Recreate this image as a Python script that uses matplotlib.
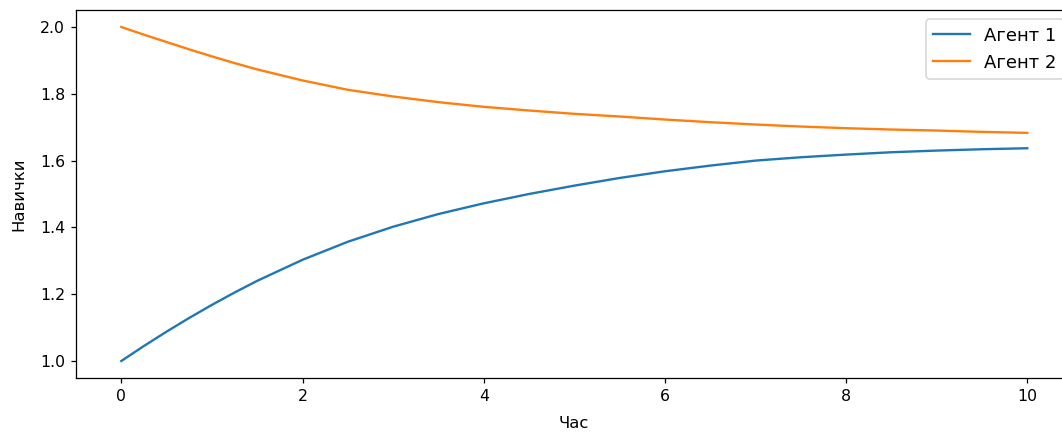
import matplotlib
matplotlib.use('Agg')
import matplotlib.pyplot as plt

# values
t = [0, 0.25, 0.5, 0.75, 1, 1.25, 1.5, 2, 2.5, 3, 3.5, 4, 4.5, 5, 5.5, 6, 6.5, 7, 7.5, 8, 8.5, 9, 9.5, 10]
agent1 = [1.000, 1.045, 1.088, 1.129, 1.168, 1.205, 1.240, 1.303, 1.357, 1.402, 1.440, 1.472,
          1.500, 1.525, 1.548, 1.568, 1.585, 1.600, 1.610, 1.618, 1.625, 1.630, 1.634, 1.637]
agent2 = [2.000, 1.977, 1.955, 1.933, 1.912, 1.892, 1.873, 1.840, 1.812, 1.792, 1.775, 1.761,
          1.750, 1.740, 1.732, 1.723, 1.715, 1.708, 1.702, 1.697, 1.693, 1.690, 1.686, 1.683]

# reference looks rendered a bit larger and cropped on the right
dpi = 113
fig = plt.figure(figsize=(1062/dpi, 432/dpi), dpi=dpi)
ax = fig.add_axes([76/1062, 54.3/432, 996.6/1062, 367.4/432])

ax.plot(t, agent1, label='Агент 1')
ax.plot(t, agent2, label='Агент 2')
ax.set_xlabel('Час', fontsize=10.5, labelpad=8)
ax.set_ylabel('Навички', fontsize=10.5, labelpad=8.5)
ax.legend(loc='upper right', fontsize=11.5)

fig.savefig('out.png', dpi=dpi)
